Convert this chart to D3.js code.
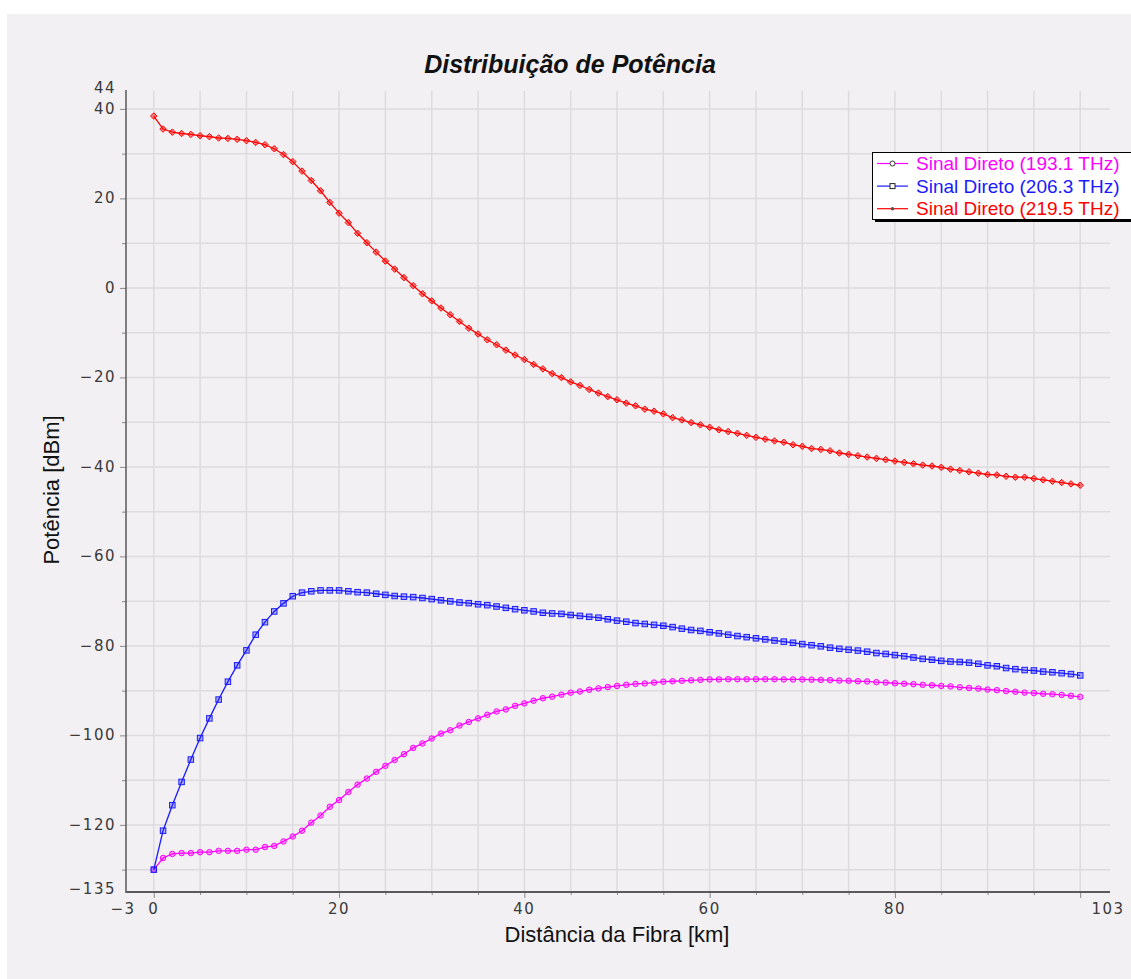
<!DOCTYPE html>
<html>
<head>
<meta charset="utf-8">
<script src="https://cdnjs.cloudflare.com/ajax/libs/d3/7.8.5/d3.min.js"></script>
<style>
  html, body { margin: 0; padding: 0; background: #ffffff; }
  svg { display: block; }
  .tick-label { font-family: "DejaVu Sans", sans-serif; font-size: 15px; letter-spacing: 1.5px; fill: #3a3a3a; }
</style>
</head>
<body>
<svg id="chart" width="1131" height="979"></svg>
<script>
// Distance along the fibre (km), one sample per kilometre
const distanceKm = [
  0,1,2,3,4,5,6,7,8,9,10,11,12,13,14,15,16,17,18,19,20,21,22,23,24,25,26,27,28,29,30,
  31,32,33,34,35,36,37,38,39,40,41,42,43,44,45,46,47,48,49,50,51,52,53,54,55,56,57,58,59,60,
  61,62,63,64,65,66,67,68,69,70,71,72,73,74,75,76,77,78,79,80,81,82,83,84,85,86,87,88,89,90,
  91,92,93,94,95,96,97,98,99,100
];

// Power (dBm) of each forward signal
const power193 = [
  -130.0,-127.4,-126.5,-126.3,-126.3,-126.1,-126.1,-125.8,-125.8,-125.8,-125.55,
  -125.55,-124.95,-124.7,-123.7,-122.6,-121.3,-119.5,-117.9,-115.95,-114.45,
  -112.65,-111.0,-109.65,-108.15,-106.8,-105.5,-104.2,-102.8,-101.8,-100.7,
  -99.6,-98.85,-97.8,-97.0,-96.2,-95.4,-94.65,-94.2,-93.4,-92.85,
  -92.25,-91.7,-91.35,-90.9,-90.45,-90.2,-89.8,-89.5,-89.2,-88.95,
  -88.7,-88.5,-88.4,-88.2,-88.0,-87.9,-87.8,-87.7,-87.6,-87.5,
  -87.5,-87.45,-87.45,-87.45,-87.45,-87.45,-87.45,-87.5,-87.5,-87.5,
  -87.55,-87.6,-87.65,-87.75,-87.8,-87.9,-87.95,-88.1,-88.2,-88.35,
  -88.45,-88.55,-88.7,-88.8,-88.95,-89.05,-89.25,-89.4,-89.55,-89.75,
  -89.9,-90.1,-90.25,-90.45,-90.55,-90.7,-90.8,-90.95,-91.15,-91.4
];
const power206 = [
  -130.0,-121.3,-115.6,-110.4,-105.4,-100.6,-96.2,-92.0,-88.0,-84.35,-81.0,
  -77.5,-74.7,-72.3,-70.5,-68.9,-68.1,-67.8,-67.6,-67.6,-67.6,
  -67.8,-68.0,-68.1,-68.35,-68.6,-68.85,-69.0,-69.1,-69.3,-69.55,
  -69.8,-70.05,-70.3,-70.45,-70.7,-70.9,-71.2,-71.5,-71.8,-72.05,
  -72.3,-72.6,-72.75,-72.85,-73.1,-73.3,-73.5,-73.7,-74.05,-74.35,
  -74.6,-74.9,-75.1,-75.3,-75.5,-75.8,-76.15,-76.45,-76.65,-76.95,
  -77.2,-77.5,-77.8,-78.05,-78.3,-78.55,-78.8,-79.05,-79.3,-79.6,
  -79.85,-80.1,-80.4,-80.65,-80.85,-81.05,-81.3,-81.6,-81.8,-82.05,
  -82.3,-82.6,-82.9,-83.1,-83.35,-83.5,-83.6,-83.75,-84.0,-84.35,
  -84.55,-84.95,-85.2,-85.4,-85.5,-85.75,-85.9,-86.1,-86.3,-86.6
];
const power219 = [
  38.4,35.5,34.8,34.5,34.3,34.0,33.8,33.5,33.4,33.2,32.9,
  32.5,32.0,31.1,29.8,28.2,26.1,24.0,21.7,19.1,16.7,
  14.6,12.2,10.1,8.0,6.0,4.2,2.3,0.5,-1.3,-2.9,
  -4.5,-6.0,-7.5,-9.0,-10.3,-11.6,-12.7,-13.9,-15.0,-16.0,
  -17.1,-18.1,-19.15,-20.05,-21.0,-21.8,-22.7,-23.5,-24.3,-25.0,
  -25.75,-26.35,-27.1,-27.55,-28.15,-29.0,-29.5,-30.1,-30.6,-31.15,
  -31.7,-32.1,-32.5,-32.95,-33.4,-33.8,-34.2,-34.5,-35.05,-35.4,
  -35.9,-36.1,-36.4,-36.9,-37.2,-37.5,-37.8,-38.1,-38.4,-38.7,
  -39.0,-39.3,-39.6,-39.8,-40.1,-40.5,-40.8,-41.1,-41.4,-41.7,
  -41.8,-42.1,-42.3,-42.3,-42.6,-42.9,-43.2,-43.5,-43.8,-44.1
];

const seriesNames = ["Sinal Direto (193.1 THz)", "Sinal Direto (206.3 THz)", "Sinal Direto (219.5 THz)"];

// Axis extents and tick labels
const xDomain = [-3, 103];
const yDomain = [-135, 44];
const xTickLabels = [-3, 0, 20, 40, 60, 80, 103];
const yTickLabels = [44, 40, 20, 0, -20, -40, -60, -80, -100, -120, -135];
const xGridValues = [0,5,10,15,20,25,30,35,40,45,50,55,60,65,70,75,80,85,90,95,100];
const yGridValues = [40,30,20,10,0,-10,-20,-30,-40,-50,-60,-70,-80,-90,-100,-110,-120,-130];

const titleText = "Distribuição de Potência";
const xTitle = "Distância da Fibra [km]";
const yTitle = "Potência [dBm]";

const svg = d3.select("#chart");
const W = 1131, H = 979;
const plot = { left: 126, right: 1108, top: 91, bottom: 892 };

const x = d3.scaleLinear().domain(xDomain).range([plot.left, plot.right]);
const y = d3.scaleLinear().domain(yDomain).range([plot.bottom, plot.top]);

// panel background
svg.append("rect").attr("x", 7).attr("y", 14).attr("width", W - 7).attr("height", H - 14)
  .attr("fill", "#f2f0f3");

// grid
const grid = svg.append("g");
grid.selectAll("line.v").data(xGridValues).join("line")
  .attr("x1", d => x(d)).attr("x2", d => x(d))
  .attr("y1", plot.top).attr("y2", plot.bottom)
  .attr("stroke", "#dddbde").attr("stroke-width", 1.5);
grid.selectAll("line.h").data(yGridValues).join("line")
  .attr("x1", plot.left).attr("x2", plot.right + 2)
  .attr("y1", d => y(d)).attr("y2", d => y(d))
  .attr("stroke", "#dddbde").attr("stroke-width", 1.5);

// axes
const axisColor = "#5a5a5a";
const xAxis = d3.axisBottom(x).tickValues(xGridValues).tickFormat("")
  .tickSizeInner(0).tickSizeOuter(0);
const gx = svg.append("g").attr("transform", `translate(0,${plot.bottom})`).call(xAxis);
gx.select(".domain").remove();
gx.selectAll(".tick line")
  .attr("y2", d => (d % 20 === 0 ? 6 : 3))
  .attr("stroke", "#8a8a8a").attr("stroke-width", 1);

const yAxis = d3.axisLeft(y).tickValues(yGridValues).tickFormat("")
  .tickSizeInner(0).tickSizeOuter(0);
const gy = svg.append("g").attr("transform", `translate(${plot.left},0)`).call(yAxis);
gy.select(".domain").remove();
gy.selectAll(".tick line")
  .attr("x2", d => (d % 20 === 0 ? -6 : -4))
  .attr("stroke", "#8a8a8a").attr("stroke-width", 1);

svg.append("line").attr("x1", plot.left).attr("x2", plot.right + 2)
  .attr("y1", plot.bottom).attr("y2", plot.bottom)
  .attr("stroke", axisColor).attr("stroke-width", 2);
svg.append("line").attr("x1", plot.left).attr("x2", plot.left)
  .attr("y1", plot.top - 1).attr("y2", plot.bottom + 1)
  .attr("stroke", axisColor).attr("stroke-width", 1.5);

const fmt = v => (v < 0 ? "\u2212" + Math.abs(v) : String(v));

// y tick labels (the end values sit slightly above their position)
svg.append("g").selectAll("text").data(yTickLabels).join("text")
  .attr("class", "tick-label")
  .attr("x", plot.left - 10)
  .attr("y", d => y(d) + ((d === yDomain[0] || d === yDomain[1]) ? -3.5 : 0))
  .attr("text-anchor", "end").attr("dominant-baseline", "central")
  .text(fmt);

// x tick labels
svg.append("g").selectAll("text").data(xTickLabels).join("text")
  .attr("class", "tick-label")
  .attr("x", d => x(d) + (d === xDomain[0] ? -3 : 0))
  .attr("y", plot.bottom + 17)
  .attr("text-anchor", "middle").attr("dominant-baseline", "central")
  .text(fmt);

// titles
svg.append("text").attr("x", 570).attr("y", 73)
  .attr("text-anchor", "middle")
  .style("font-family", "'Liberation Sans', Arial, sans-serif")
  .style("font-weight", "bold").style("font-style", "italic")
  .style("font-size", "25px").attr("fill", "#111")
  .text(titleText);

svg.append("text").attr("x", 617).attr("y", 942)
  .attr("text-anchor", "middle")
  .style("font-family", "'Liberation Sans', Arial, sans-serif")
  .style("font-size", "22px").attr("fill", "#111")
  .text(xTitle);

svg.append("text")
  .attr("transform", `translate(59,490) rotate(-90)`)
  .attr("text-anchor", "middle")
  .style("font-family", "'Liberation Sans', Arial, sans-serif")
  .style("font-size", "22px").attr("fill", "#111")
  .text(yTitle);

// series
const series = [
  { name: seriesNames[0], values: power193, color: "#ff00ff", marker: "circle" },
  { name: seriesNames[1], values: power206, color: "#1a1aff", marker: "square" },
  { name: seriesNames[2], values: power219, color: "#ff0000", marker: "diamond" }
];

const line = d3.line().x(d => x(d[0])).y(d => y(d[1]));

function drawMarker(g, kind, cx, cy, color, size, fillOpacity) {
  if (kind === "circle") {
    g.append("circle").attr("cx", cx).attr("cy", cy).attr("r", size / 2)
      .attr("fill", color).attr("fill-opacity", fillOpacity)
      .attr("stroke", color).attr("stroke-width", 1);
  } else if (kind === "square") {
    g.append("rect").attr("x", cx - size / 2).attr("y", cy - size / 2)
      .attr("width", size).attr("height", size)
      .attr("fill", color).attr("fill-opacity", fillOpacity)
      .attr("stroke", color).attr("stroke-width", 1);
  } else {
    const r = size / 2 + 0.5;
    g.append("path")
      .attr("d", `M${cx},${cy - r}L${cx + r},${cy}L${cx},${cy + r}L${cx - r},${cy}Z`)
      .attr("fill", color).attr("fill-opacity", fillOpacity + 0.15)
      .attr("stroke", color).attr("stroke-width", 1);
  }
}

series.forEach(s => {
  const pts = distanceKm.map((d, i) => [d, s.values[i]]);
  const g = svg.append("g");
  g.append("path").datum(pts).attr("d", line)
    .attr("fill", "none").attr("stroke", s.color).attr("stroke-width", 1.3);
  pts.forEach(p => drawMarker(g, s.marker, x(p[0]), y(p[1]), s.color, 5.5, 0.3));
});

// legend
const lg = svg.append("g");
const lx = 872, ly = 152, lw = 270, lh = 67;
lg.append("rect").attr("x", lx + 3).attr("y", ly + 3).attr("width", lw).attr("height", lh).attr("fill", "#000");
lg.append("rect").attr("x", lx + 0.5).attr("y", ly + 0.5).attr("width", lw).attr("height", lh)
  .attr("fill", "#ffffff").attr("stroke", "#000").attr("stroke-width", 1);
series.forEach((s, i) => {
  const cy = 163.5 + i * 22.6;
  lg.append("line").attr("x1", 877).attr("x2", 908).attr("y1", cy).attr("y2", cy)
    .attr("stroke", s.color).attr("stroke-width", 1.2);
  if (s.marker === "circle") {
    lg.append("circle").attr("cx", 892.5).attr("cy", cy).attr("r", 2.5)
      .attr("fill", "#fff").attr("stroke", "#333").attr("stroke-width", 1);
  } else if (s.marker === "square") {
    lg.append("rect").attr("x", 890).attr("y", cy - 2.5).attr("width", 5).attr("height", 5)
      .attr("fill", "#fff").attr("stroke", "#222").attr("stroke-width", 1);
  } else {
    lg.append("circle").attr("cx", 892.5).attr("cy", cy).attr("r", 1.8).attr("fill", "#555");
  }
  lg.append("text").attr("x", 916).attr("y", cy).attr("dominant-baseline", "central")
    .style("font-family", "'Liberation Sans', Arial, sans-serif")
    .style("font-size", "19px").attr("fill", s.color)
    .text(s.name);
});
</script>
</body>
</html>
